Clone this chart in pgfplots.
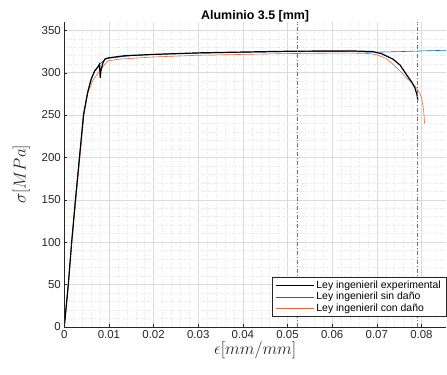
\documentclass[border=0pt]{standalone}
\usepackage{pgfplots}
\pgfplotsset{compat=1.18}
\usepackage{fontspec}
\setmainfont{Liberation Sans}
\definecolor{mblue}{rgb}{0,0.447,0.741}
\definecolor{morange}{rgb}{0.85,0.325,0.098}
\definecolor{axcol}{rgb}{0.15,0.15,0.15}
\begin{document}
\begin{tikzpicture}
\begin{axis}[
  at={(0,0)}, anchor=south west,
  scale only axis,
  width=381.7bp, height=305bp,
  xmin=0, xmax=0.0855, ymin=0, ymax=360,
  axis x line*=bottom, axis y line*=left,
  axis line style={axcol, line width=0.5pt},
  scaled x ticks=false,
  xtick={0,0.01,0.02,0.03,0.04,0.05,0.06,0.07,0.08},
  xticklabels={0,0.01,0.02,0.03,0.04,0.05,0.06,0.07,0.08},
  ytick={0,50,100,150,200,250,300,350},
  minor x tick num=4, minor y tick num=4,
  tick align=inside,
  major tick length=3bp, minor tick length=0bp,
  tick style={axcol},
  grid=both,
  major grid style={black!14, line width=0.4pt},
  minor grid style={black!10, line width=0.4pt, dotted},
  /pgf/number format/assume math mode=true,
  ticklabel style={font=\fontsize{11.5}{13}\selectfont, text=axcol},
  title={\textbf{Aluminio 3.5 [mm]}},
  title style={font=\fontsize{12.5}{14}\selectfont, yshift=-9.5bp},
  xlabel={$\epsilon[mm/mm]$},
  ylabel={$\sigma[MPa]$},
  label style={font=\fontsize{18}{20}\selectfont, text=axcol},
  xlabel style={yshift=4bp},
  ylabel style={yshift=5bp},
  legend style={at={(rel axis cs:1,0.033)}, anchor=south east,
    font=\fontsize{10.5}{12}\selectfont, draw=axcol, fill=white,
    row sep=-1.5bp, inner xsep=3bp, inner ysep=1.5bp},
  legend cell align=left,
  legend image code/.code={\draw[#1] (0bp,0bp) -- (38bp,0bp);},
]
% experimental (for legend)
\addplot[black, line width=1.2pt] coordinates {(0,0) (0.0001,0)};
\addlegendentry{Ley ingenieril experimental}
% sin dano
\addplot[mblue, line width=0.6pt] coordinates {
(0,0) (0.0009,50) (0.00165,100) (0.0025,150) (0.0034,200) (0.0043,250)
(0.0052,276) (0.0060,292) (0.0068,302) (0.0076,308) (0.0085,313) (0.0092,316)
(0.0100,317) (0.015,320) (0.02,321.5) (0.03,323) (0.04,324) (0.05,324.8)
(0.06,325) (0.065,324.8) (0.068,324.3) (0.070,324.2) (0.075,324.8) (0.080,325.6) (0.0855,326.4)};
\addlegendentry{Ley ingenieril sin daño}
% con dano
\addplot[morange!85, line width=0.6pt] coordinates {
(0,0) (0.0009,50) (0.00168,100) (0.0026,150) (0.0035,200) (0.0044,250)
(0.0053,276) (0.0063,290) (0.0072,297) (0.0082,304) (0.0091,310) (0.0098,314)
(0.0125,316) (0.02,318.5) (0.03,320.5) (0.04,321.5) (0.05,322.5) (0.06,323)
(0.065,323) (0.0684,322.5) (0.070,321) (0.072,317) (0.0736,310) (0.0752,302)
(0.0766,294) (0.0778,288) (0.0788,282.5) (0.0795,277) (0.0800,270.7)
(0.0803,262) (0.0805,255) (0.0806,248) (0.0807,240)};
\addlegendentry{Ley ingenieril con daño}
% experimental on top
\addplot[black, line width=1.2pt, forget plot] coordinates {
(0,0) (0.0009,50) (0.00165,100) (0.0025,150) (0.0034,200) (0.0043,250)
(0.0052,276) (0.0060,292) (0.0068,302) (0.0076,307) (0.0079,310) (0.0080,298)
(0.00805,294) (0.0082,302) (0.0086,311) (0.0091,316) (0.0100,317.5)
(0.0136,320) (0.02,321.5) (0.03,323.3) (0.04,324.3) (0.05,325.2) (0.06,325.6)
(0.065,325.5) (0.0691,324.8) (0.071,322.5) (0.0736,316) (0.0752,309)
(0.0766,298) (0.0778,289) (0.0785,282.5) (0.0790,274) (0.0792,267.6)};
% vertical reference lines
\addplot[black!55, line width=0.8pt, dash pattern=on 4pt off 2pt on 1pt off 2pt, forget plot] coordinates {(0.0522,0) (0.0522,360)};
\addplot[black!55, line width=0.8pt, dash pattern=on 4pt off 2pt on 1pt off 2pt, forget plot] coordinates {(0.0791,0) (0.0791,360)};
\end{axis}
\pgfresetboundingbox
\path[use as bounding box] (-64.3bp,-48.2bp) rectangle (382.7bp,326.8bp);
\end{tikzpicture}
\end{document}
